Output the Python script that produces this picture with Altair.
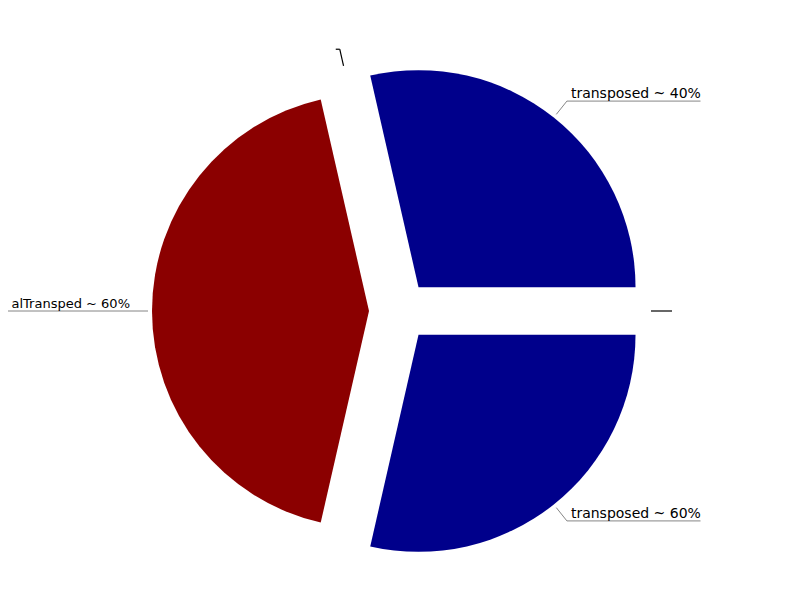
import altair as alt
import pandas as pd

# data
labels = ["transposed ~ 40%", "", "alTransped ~ 60%", "transposed ~ 60%", ""]
values = [2, 0, 3, 2, 0]
groups = ["transposed", "zero", "alTransped", "transposed", "zero"]

df = pd.DataFrame({"idx": list(range(len(values))), "label": labels,
                   "value": values, "group": groups})

# layout (chart coordinates = page - 8px margin)
CX, CY = 391.5, 303.0
D = 30.5      # explode distance
R = 217       # radius
L0, L1 = 221, 238   # leader radial segment
CHW = 8.1     # approx char width for 14px DejaVu Sans

base = alt.Chart(df).transform_window(
    cum="sum(value)", sort=[alt.SortField("idx")], frame=[None, 0]
).transform_joinaggregate(
    total="sum(value)"
).transform_calculate(
    t0="PI/2 - 2*PI*(datum.cum - datum.value)/datum.total",
    t1="PI/2 - 2*PI*datum.cum/datum.total",
    tm="PI/2 - 2*PI*(datum.cum - datum.value/2)/datum.total",
).transform_calculate(
    ex="sin(datum.tm)", ey="-cos(datum.tm)"
).transform_calculate(
    ax=f"{CX} + {D}*datum.ex", ay=f"{CY} + {D}*datum.ey",
    sx=f"{CX} + {D + L0}*datum.ex", sy=f"{CY} + {D + L0}*datum.ey",
    kx=f"{CX} + {D + L1}*datum.ex", ky=f"{CY} + {D + L1}*datum.ey",
    sgn="datum.ex >= 0 ? 1 : -1",
).transform_calculate(
    endx=f"datum.kx + datum.sgn*(length(datum.label)*{CHW} + 4)",
    tx="datum.kx + datum.sgn*4",
)

arcs = base.transform_filter("datum.value > 0").mark_arc(radius=R).encode(
    x=alt.X("ax:Q", scale=None), y=alt.Y("ay:Q", scale=None),
    theta=alt.Theta("t0:Q", scale=None), theta2="t1:Q",
    color=alt.Color("group:N", scale=alt.Scale(domain=["transposed", "alTransped"],
                                                range=["#00008B", "#8B0000"]), legend=None),
)

def leaders(cond, color, width):
    radial = base.transform_filter(cond).mark_rule(color=color, strokeWidth=width).encode(
        x=alt.X("sx:Q", scale=None), y=alt.Y("sy:Q", scale=None), x2="kx:Q", y2="ky:Q")
    horiz = base.transform_filter(cond).mark_rule(color=color, strokeWidth=width).encode(
        x=alt.X("kx:Q", scale=None), y=alt.Y("ky:Q", scale=None), x2="endx:Q")
    return radial + horiz

lead_nz = leaders("datum.value > 0", "#666666", 0.8)
lead_z = leaders("datum.value == 0", "black", 1.2)

text_r = base.transform_filter("datum.sgn > 0").mark_text(
    align="left", baseline="alphabetic", dy=-3, font="DejaVu Sans", fontSize=14, color="black"
).encode(x=alt.X("tx:Q", scale=None), y=alt.Y("ky:Q", scale=None), text="label:N")
text_l = base.transform_filter("datum.sgn < 0").mark_text(
    align="right", baseline="alphabetic", dx=3, dy=-3, font="DejaVu Sans", fontSize=13, color="black"
).encode(x=alt.X("tx:Q", scale=None), y=alt.Y("ky:Q", scale=None), text="label:N")

chart = alt.layer(arcs, lead_nz, lead_z, text_r, text_l).properties(
    width=784, height=584,
    autosize=alt.AutoSizeParams(type="none"),
    padding=0,
    background="white",
).configure_view(stroke=None)

chart.save("out.html", embed_options={"renderer": "svg", "actions": False})
